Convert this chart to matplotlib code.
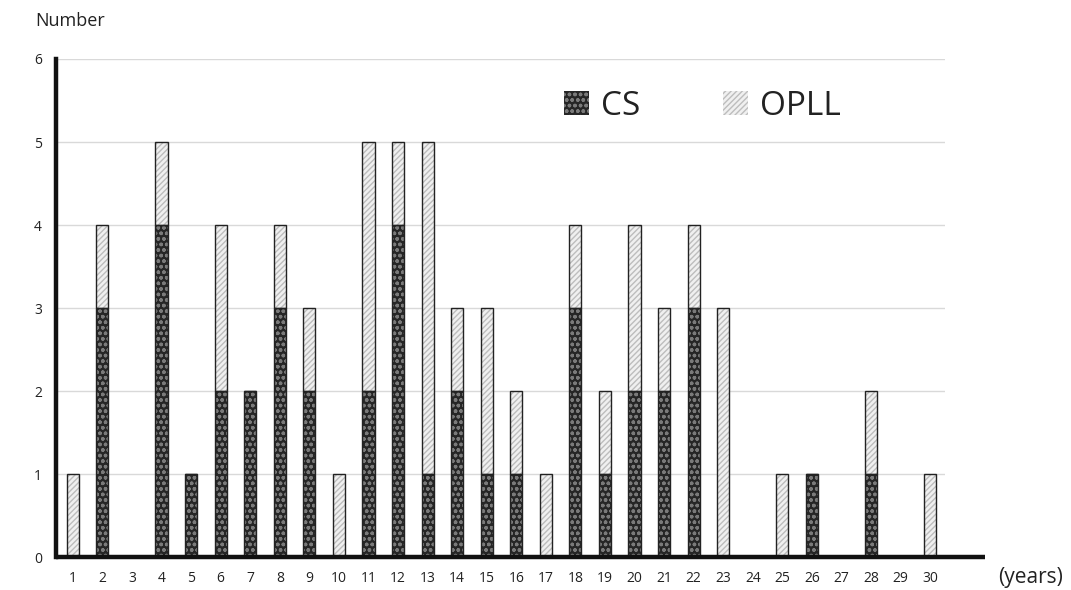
import matplotlib
matplotlib.use("Agg")
import matplotlib.pyplot as plt
from matplotlib.patches import Patch
import numpy as np

plt.rcParams['font.family'] = ['Open Sans', 'DejaVu Sans']

years = list(range(1, 31))
cs = [0, 3, 0, 4, 1, 2, 2, 3, 2, 0, 2, 4, 1, 2, 1, 1, 0, 3, 1, 2, 2, 3, 0, 0, 0, 1, 0, 1, 0, 0]
opll = [1, 1, 0, 1, 0, 2, 0, 1, 1, 1, 3, 1, 4, 1, 2, 1, 1, 1, 1, 2, 1, 1, 3, 0, 1, 0, 0, 1, 0, 1]
yticks = [0, 1, 2, 3, 4, 5, 6]

fig = plt.figure(figsize=(10.71, 5.90), dpi=100)
ax = fig.add_axes([0.0523, 0.0559, 0.8300, 0.8441])

x = np.array(years)
cs = np.array(cs)
opll = np.array(opll)
w = 0.41

cs_face, cs_hatch = '#262626', '#7a7a7a'
op_face, op_hatch = '#f0f0f0', '#bdbdbd'

# CS layer
ax.bar(x, cs, w, color=cs_face, edgecolor=cs_hatch, hatch='ooo', linewidth=0, zorder=3)
ax.bar(x, cs, w, fill=False, edgecolor='#222222', linewidth=1.0, zorder=4)
# OPLL layer
ax.bar(x, opll, w, bottom=cs, color=op_face, edgecolor=op_hatch, hatch='//////', linewidth=0, zorder=3)
ax.bar(x, opll, w, bottom=cs, fill=False, edgecolor='#222222', linewidth=1.0, zorder=4)

ax.set_xlim(0.43, 30.5)
ax.set_ylim(0, 6)
ax.set_yticks(yticks)
ax.set_xticks(years)
ax.set_xticklabels([str(v) for v in years])
ax.tick_params(axis='both', length=0, labelsize=10, colors='#222222')
ax.tick_params(axis='x', pad=10)
ax.tick_params(axis='y', pad=10)
ax.grid(axis='y', color='#d9d9d9', linewidth=1.0, zorder=0)
ax.set_axisbelow(True)

for s in ['top', 'right', 'bottom']:
    ax.spines[s].set_visible(False)
ax.spines['left'].set_linewidth(3.2)
ax.spines['left'].set_color('#111111')
# x axis line extended past the plot area
ax.plot([0, 1.045], [0, 0], transform=ax.transAxes, color='#111111', linewidth=3.2,
        clip_on=False, zorder=5, solid_capstyle='butt')

fig.text(0.033, 0.965, 'Number', fontsize=13, color='#222222', ha='left', va='center')
fig.text(0.932, 0.022, '(years)', fontsize=15, color='#222222', ha='left', va='center')

handles = [Patch(facecolor=cs_face, edgecolor=cs_hatch, hatch='ooo', linewidth=0),
           Patch(facecolor=op_face, edgecolor=op_hatch, hatch='//////', linewidth=0)]
leg = ax.legend(handles, ['CS', 'OPLL'], ncol=2, frameon=False, fontsize=24,
                loc='center', bbox_to_anchor=(0.727, 0.905), handlelength=0.75,
                handleheight=0.75, handletextpad=0.35, columnspacing=2.5)
for t in leg.get_texts():
    t.set_color('#222222')

fig.savefig('out.png', dpi=100)
